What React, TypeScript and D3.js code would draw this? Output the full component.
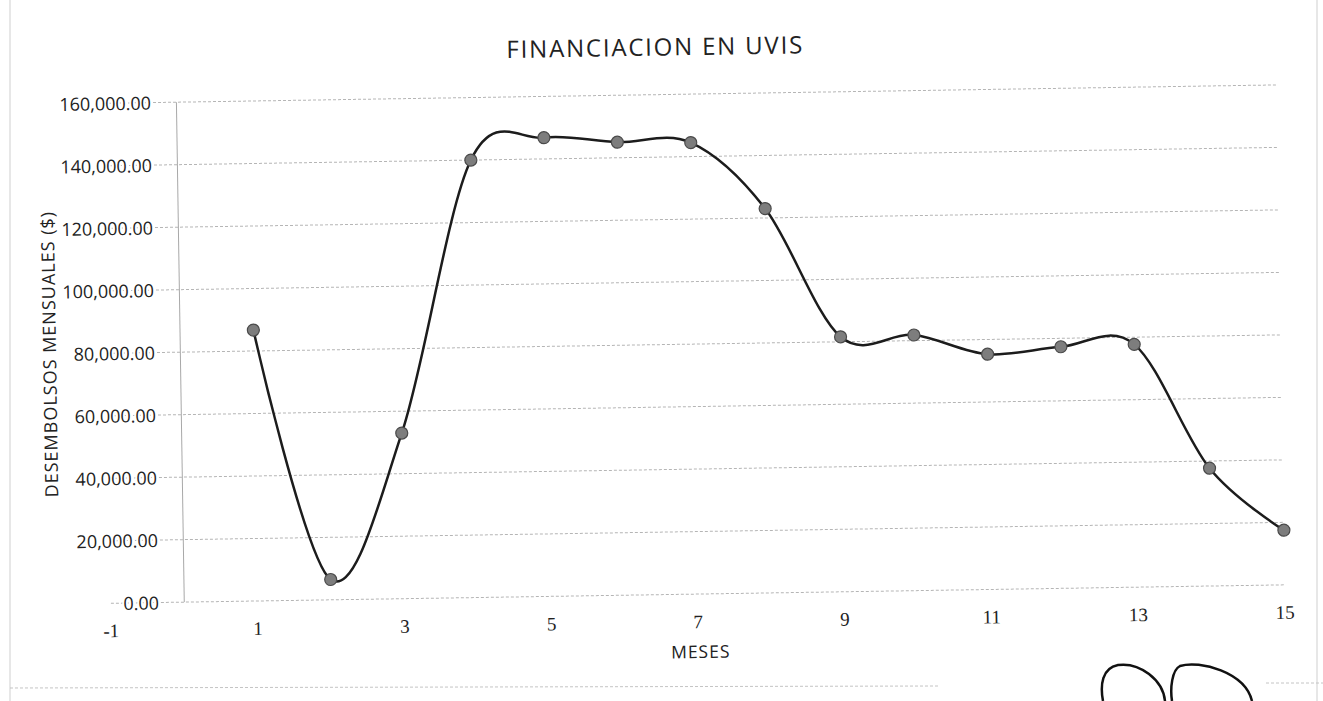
import React from 'react';
import * as d3 from 'd3';

// months on the x axis and monthly disbursements
const months = [1, 2, 3, 4, 5, 6, 7, 8, 9, 10, 11, 12, 13, 14, 15];
const disbursements = [
  86700, 6500, 53000, 140000, 146800, 145000, 144500, 123000,
  81600, 81800, 75300, 77300, 77700, 37700, 17500,
];
const xTicks = [-1, 1, 3, 5, 7, 9, 11, 13, 15];
const yTicks = [0, 20000, 40000, 60000, 80000, 100000, 120000, 140000, 160000];

const title = 'FINANCIACION EN UVIS';
const xTitle = 'MESES';
const yTitle = 'DESEMBOLSOS MENSUALES ($)';

const W = 1323;
const H = 701;

export default function App() {
  const x = d3.scaleLinear().domain([-1, 15]).range([107, 1281]);
  const y = d3.scaleLinear().domain([0, 160000]).range([594, 94]);
  const fmt = d3.format(',.2f');

  const points = months.map((m, i) => ({ m, v: disbursements[i] }));
  const line = d3
    .line<{ m: number; v: number }>()
    .x(d => x(d.m))
    .y(d => y(d.v))
    .curve(d3.curveCardinal.tension(0));

  const sans = '"Open Sans", "Liberation Sans", sans-serif';
  const serif = '"Liberation Serif", "DejaVu Serif", serif';

  return (
    <svg
      width={W}
      height={H}
      style={{ position: 'absolute', left: 0, top: 0, background: '#fff' }}
    >
      <rect x={0} y={0} width={W} height={H} fill="#fff" />
      {/* chart border */}
      <line x1={10} x2={10} y1={0} y2={H} stroke="#cfcfcf" />
      <line x1={1317} x2={1317} y1={0} y2={H} stroke="#cfcfcf" />
      <line x1={10} x2={940} y1={688} y2={686} stroke="#c4c4c4" strokeDasharray="3 2" />
      <line x1={1266} x2={1323} y1={683} y2={683} stroke="#c4c4c4" strokeDasharray="3 2" />

      {/* scan is slightly rotated */}
      <g transform="rotate(-0.9, 700, 350)">
        {/* gridlines */}
        {yTicks.map(t => (
          <line
            key={'g' + t}
            x1={x(-1)}
            x2={x(15)}
            y1={y(t)}
            y2={y(t)}
            stroke="#b5b5b5"
            strokeWidth={1}
            strokeDasharray="3 2"
          />
        ))}
        {/* vertical axis at x = 0 */}
        <line x1={x(0)} x2={x(0)} y1={y(160000)} y2={y(0)} stroke="#a8a8a8" strokeWidth={1} />

        {/* y tick labels */}
        {yTicks.map(t => (
          <text
            key={'y' + t}
            x={155}
            y={y(t)}
            textAnchor="end"
            dominantBaseline="central"
            fontFamily={sans}
            fontSize={18}
            fill="#222"
            stroke="#fff"
            strokeWidth={4}
            paintOrder="stroke"
          >
            {fmt(t)}
          </text>
        ))}

        {/* x tick labels */}
        {xTicks.map(t => (
          <text
            key={'x' + t}
            x={x(t)}
            y={628}
            textAnchor="middle"
            fontFamily={serif}
            fontSize={19}
            fill="#222"
          >
            {t}
          </text>
        ))}

        {/* titles */}
        <text
          x={(x(-1) + x(15)) / 2 - 34}
          y={55}
          textAnchor="middle"
          fontFamily={sans}
          fontSize={24}
          letterSpacing={1.8}
          fill="#222"
        >
          {title}
        </text>
        <text
          x={696}
          y={658}
          textAnchor="middle"
          fontFamily={sans}
          fontSize={17.5}
          letterSpacing={1}
          fill="#222"
        >
          {xTitle}
        </text>
        <text
          transform={`translate(56, ${(y(0) + y(160000)) / 2}) rotate(-90)`}
          textAnchor="middle"
          fontFamily={sans}
          fontSize={18}
          letterSpacing={1}
          fill="#222"
        >
          {yTitle}
        </text>

        {/* series */}
        <path d={line(points) || ''} fill="none" stroke="#1c1c1c" strokeWidth={2.5} />
        {points.map(p => (
          <circle
            key={'p' + p.m}
            cx={x(p.m)}
            cy={y(p.v)}
            r={6}
            fill="#7d7d7d"
            stroke="#4a4a4a"
            strokeWidth={1.2}
          />
        ))}
      </g>

      {/* handwritten initials at the bottom */}
      <path
        d="M1103,701 C1100,685 1102,668 1118,665 C1140,662 1163,680 1165,701"
        fill="none"
        stroke="#111"
        strokeWidth={2.5}
      />
      <path
        d="M1172,701 C1170,688 1172,670 1180,666 C1200,660 1245,672 1252,701"
        fill="none"
        stroke="#111"
        strokeWidth={2.5}
      />
    </svg>
  );
}
